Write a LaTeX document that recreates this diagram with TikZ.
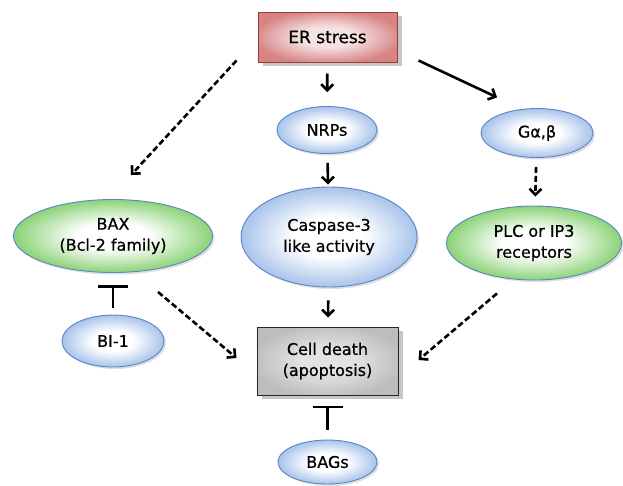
\documentclass[tikz,border=0pt]{standalone}
\usepackage{fontspec}
\setmainfont{DejaVu Sans}[FakeBold=0.6]
\usetikzlibrary{shapes.geometric,arrows.meta,calc,shadows}
\definecolor{bluedge}{HTML}{A2BFEA}
\definecolor{blueline}{HTML}{5B86C5}
\definecolor{greenedge}{HTML}{84D06E}
\definecolor{rededge}{HTML}{D68383}
\definecolor{redline}{HTML}{9E3A3A}
\definecolor{grayedge}{HTML}{BDBDBD}
\definecolor{redcenter}{HTML}{F6E2E2}
\definecolor{graycenter}{HTML}{E2E2E2}
\pgfdeclareradialshading{shblue}{\pgfpoint{0bp}{0bp}}{color(0bp)=(white); color(10bp)=(white); color(26bp)=(bluedge); color(50bp)=(bluedge)}
\pgfdeclareradialshading{shgreen}{\pgfpoint{0bp}{0bp}}{color(0bp)=(white); color(9bp)=(white); color(26bp)=(greenedge); color(50bp)=(greenedge)}
\pgfdeclareradialshading{shred}{\pgfpoint{0bp}{0bp}}{color(0bp)=(redcenter); color(10bp)=(redcenter); color(27bp)=(rededge); color(50bp)=(rededge)}
\pgfdeclareradialshading{shgray}{\pgfpoint{0bp}{0bp}}{color(0bp)=(graycenter); color(10bp)=(graycenter); color(27bp)=(grayedge); color(50bp)=(grayedge)}
\tikzset{
  txt/.style={font=\fontsize{16}{21}\selectfont, align=center, text=black, inner sep=0pt},
  blueell/.style={txt, ellipse, draw=blueline, line width=0.9pt, shading=shblue,
    drop shadow={shadow xshift=2pt, shadow yshift=-2pt, opacity=0.25, fill=gray}},
  greenell/.style={txt, ellipse, draw=blueline, line width=0.9pt, shading=shgreen,
    drop shadow={shadow xshift=2pt, shadow yshift=-2pt, opacity=0.25, fill=gray}},
  redbox/.style={txt, rectangle, draw=redline, line width=1pt, shading=shred,
    drop shadow={shadow xshift=5pt, shadow yshift=-4pt, opacity=0.45, fill=gray}},
  graybox/.style={txt, rectangle, draw=black!85, line width=1pt, shading=shgray,
    drop shadow={shadow xshift=5pt, shadow yshift=-4pt, opacity=0.45, fill=gray}},
  arr/.style={line width=2.6pt, -{Straight Barb[length=6pt,width=12pt,line width=2.6pt]}},
  darr/.style={arr, dash pattern=on 6pt off 3pt},
  inhib/.style={line width=2.8pt, -{Bar[width=30pt,line width=2.8pt]}},
}
\begin{document}
\begin{tikzpicture}[x=1pt,y=-1pt]
\useasboundingbox (0,0) rectangle (623,485);
\node[redbox, minimum width=139pt, minimum height=50pt, font=\fontsize{17}{20}\selectfont] (er) at (327.5,37) {ER stress};
\node[blueell, minimum width=100pt, minimum height=47pt] (nrp) at (327,130) {NRPs};
\node[blueell, minimum width=112pt, minimum height=49pt] (ga) at (537,133) {Gα,β};
\node[blueell, minimum width=176pt, minimum height=100pt] (casp) at (329,237) {Caspase-3\\like activity};
\node[greenell, minimum width=199pt, minimum height=73pt] (bax) at (113,236) {BAX\\(Bcl-2 family)};
\node[greenell, minimum width=175pt, minimum height=74pt] (plc) at (534,243) {PLC or IP3\\receptors};
\node[blueell, minimum width=102pt, minimum height=52pt] (bi) at (113,341) {BI-1};
\node[graybox, minimum width=141pt, minimum height=68pt] (cd) at (327.5,361) {Cell death\\(apoptosis)};
\node[blueell, minimum width=99pt, minimum height=44pt] (bags) at (327.5,462) {BAGs};

\draw[darr] ($(er.south west)+(-21,-2)$) -- ($(bax.north)+(18,-24)$);
\draw[arr, shorten <=11pt, shorten >=14pt] (er) -- (nrp);
\draw[arr] ($(er.south east)+(21,-2)$) -- ($(ga.north west)+(0,-18)$);
\draw[arr, shorten <=9pt, shorten >=2pt] (nrp) -- (casp);
\draw[darr, shorten <=9pt, shorten >=9pt] (ga) -- (plc);
\draw[arr, shorten <=13pt, shorten >=9pt] (casp) -- (cd);
\draw[darr] ($(bax.south)+(45,19)$) -- ($(cd.west)+(-20,-3)$);
\draw[darr] ($(plc.south)+(-37,13)$) -- ($(cd.east)+(20,-1)$);
\draw[inhib, shorten <=7pt, shorten >=12pt] (bi.north) -- (bax.south);
\draw[inhib, shorten <=10pt, shorten >=10pt] (bags.north) -- (cd.south);
\end{tikzpicture}
\end{document}
